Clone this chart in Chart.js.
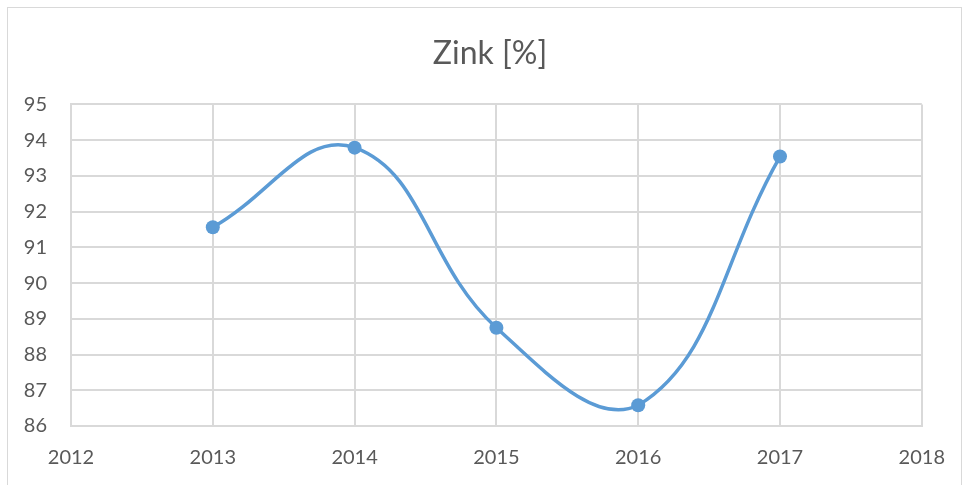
<!DOCTYPE html>
<html>
<head>
<meta charset="utf-8">
<script src="https://cdn.jsdelivr.net/npm/chart.js@4"></script>
<style>
    html, body { margin: 0; padding: 0; background: #fff; }
    #wrap { position: relative; width: 965px; height: 485px; }
    #frame { position: absolute; left: 7px; top: 7px; width: 955px; height: 490px; border: 1px solid #d9d9d9; box-sizing: border-box; }
    #chart { position: absolute; left: 0; top: 0; }
</style>
</head>
<body>
<div id="wrap">
    <div id="frame"></div>
    <canvas id="chart" width="965" height="485"></canvas>
</div>
<script>
// --- Data ---
const years = [2013, 2014, 2015, 2016, 2017];
const zinkValues = [91.56, 93.79, 88.75, 86.58, 93.54];
const chartTitle = 'Zink [%]';

const textColor = '#595959';
const gridColor = '#d9d9d9';
const lineColor = '#5b9bd5';

const points = years.map((y, i) => ({ x: y, y: zinkValues[i] }));

// shift the title box so it is centred like the original (not over the whole canvas)
const titleShift = {
    id: 'titleShift',
    afterLayout(chart) {
        if (chart.titleBlock) {
            chart.titleBlock.left = 55;
            chart.titleBlock.right = 925;
        }
    }
};

const ctx = document.getElementById('chart').getContext('2d');
new Chart(ctx, {
    type: 'line',
    data: {
        datasets: [{
            label: chartTitle,
            data: points,
            borderColor: lineColor,
            backgroundColor: lineColor,
            borderWidth: 3.5,
            pointRadius: 7,
            pointBorderWidth: 0,
            tension: 0.42,
            fill: false
        }]
    },
    options: {
        responsive: false,
        animation: false,
        layout: { padding: { left: 0, right: 40, top: 0, bottom: 0 } },
        plugins: {
            legend: { display: false },
            tooltip: { enabled: false },
            title: {
                display: true,
                text: chartTitle,
                color: textColor,
                font: { family: 'Lato', size: 32, weight: 'normal' },
                padding: { top: 34, bottom: 32 }
            }
        },
        scales: {
            x: {
                type: 'linear',
                min: 2012,
                max: 2018,
                ticks: {
                    stepSize: 1,
                    color: textColor,
                    font: { family: 'Lato', size: 20 },
                    padding: 20,
                    callback: v => String(v)
                },
                grid: { color: gridColor, lineWidth: 2, drawTicks: false },
                border: { color: gridColor, width: 2 },
                afterFit: s => { s.height = 59; }
            },
            y: {
                min: 86,
                max: 95,
                ticks: {
                    stepSize: 1,
                    color: textColor,
                    font: { family: 'Lato', size: 20 },
                    padding: 24
                },
                grid: { color: gridColor, lineWidth: 2, drawTicks: false },
                border: { color: gridColor, width: 2 },
                afterFit: s => { s.width = 71; }
            }
        }
    },
    plugins: [titleShift]
});
</script>
</body>
</html>
